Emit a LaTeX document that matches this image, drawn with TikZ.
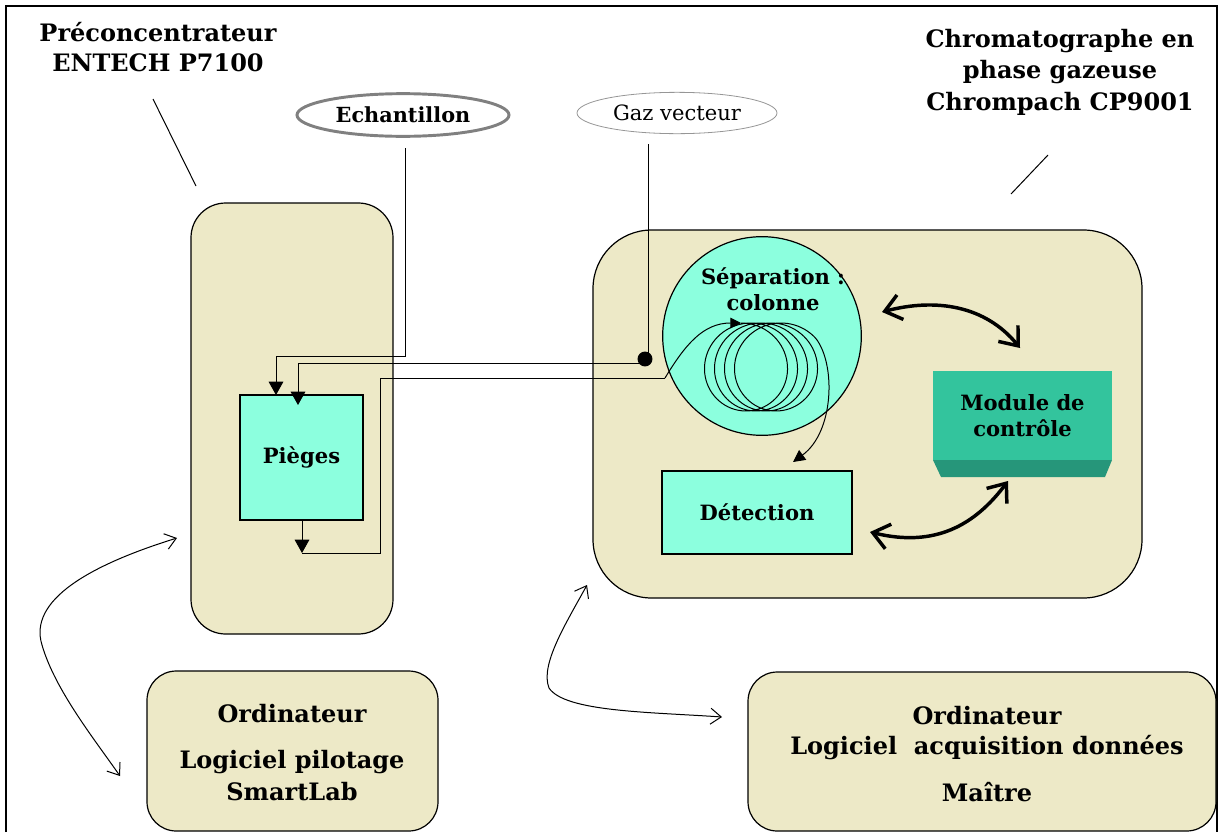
\documentclass[tikz,border=0pt]{standalone}
\usepackage{fontspec}
\setmainfont{DejaVu Serif}
\usetikzlibrary{arrows.meta,shapes.geometric,calc}
\definecolor{panelfill}{RGB}{237,233,199}
\definecolor{aqua}{RGB}{140,255,222}
\definecolor{modfront}{RGB}{51,196,157}
\definecolor{modbase}{RGB}{38,150,122}
\definecolor{ringgray}{RGB}{128,128,128}
\definecolor{thingray}{RGB}{150,150,150}

\begin{document}
\begin{tikzpicture}[x=0.75pt,y=-0.75pt,
  every node/.style={inner sep=0pt,outer sep=0pt},
  panel/.style={draw,fill=panelfill,line width=0.9pt,rounded corners=#1},
  panel/.default=24pt,
  unit/.style={draw,fill=aqua,line width=0.9pt},
  bigtext/.style={font=\bfseries\fontsize{18}{22.5}\selectfont,align=center},
  midtext/.style={font=\bfseries\fontsize{15.8}{19.5}\selectfont,align=center},
  pipe/.style={line width=0.75pt},
  pipearrow/.style={pipe,-{Triangle[length=10pt,width=11pt]}},
  link/.style={line width=0.75pt,{Straight Barb[length=8pt,width=12pt]}-{Straight Barb[length=8pt,width=12pt]}},
  buslink/.style={line width=2.6pt,line cap=round,{Straight Barb[length=12pt,width=19pt]}-{Straight Barb[length=12pt,width=19pt]}},
  leader/.style={line width=0.75pt}
]
\useasboundingbox (0,0) rectangle (1224,832);

% outer frame
\draw[line width=1.6pt] (6,832) -- (6,6) -- (1217,6) -- (1217,832);

% titles
\node[bigtext] (ttlprec) at (158,47) {Préconcentrateur\\ENTECH P7100};
\node[bigtext,font=\bfseries\fontsize{18}{23.6}\selectfont] (ttlgc) at (1060,72) {Chromatographe en\\phase gazeuse\\Chrompach CP9001};

% instrument panels
\node[panel=26pt,minimum width=151.5pt,minimum height=323.25pt] (prec) at (292,418.5) {};
\node[panel=44pt,minimum width=411.75pt,minimum height=276pt] (gc) at (867.5,414) {};

% leader lines from titles to panels
\coordinate (lp0) at (153,99);
\coordinate (lp1) at (196,186);
\coordinate (lg0) at (1048,155);
\coordinate (lg1) at (1011,194);
\draw[leader] (lp0) -- (lp1);
\draw[leader] (lg0) -- (lg1);

% sources
\node[ellipse,draw=ringgray,line width=2.2pt,fill=white,minimum width=159pt,minimum height=32pt,
      font=\bfseries\fontsize{15.6}{18}\selectfont] (ech) at (403,115) {Echantillon};
\node[ellipse,draw=thingray,line width=0.6pt,fill=white,minimum width=150pt,minimum height=31pt,
      font=\fontsize{15.8}{18}\selectfont] (gaz) at (677,113) {Gaz vecteur};

% traps, separation, detection, control
\node[unit,minimum width=92.25pt,minimum height=93.75pt,midtext] (pieges) at (301.5,457.5) {Pièges};
\node[circle,draw,fill=aqua,line width=0.9pt,minimum size=149pt] (sep) at (762,336) {};
\node[midtext] (septxt) at (773,289) {Séparation :\\colonne};
\node[unit,minimum width=142.5pt,minimum height=62.25pt,midtext] (det) at (757,512.5) {Détection};

\fill[modbase] (933,460) -- (1112,460) -- (1105,477) -- (941,477) -- cycle;
\node[fill=modfront,minimum width=134.25pt,minimum height=67pt,midtext] (mod) at (1022.5,415.5) {Module de\\contrôle};

% computers
\node[panel=22pt,minimum width=218.25pt,minimum height=120pt] (pc1) at (292.5,751) {};
\node[bigtext,font=\bfseries\fontsize{18}{24}\selectfont] (pc1txt) at (292,753)
  {Ordinateur\\[10.5pt]Logiciel pilotage\\SmartLab};
\node[panel=22pt,minimum width=351pt,minimum height=119.25pt] (pc2) at (982,751.5) {};
\node[bigtext,font=\bfseries\fontsize{18}{22.5}\selectfont] (pc2txt) at (987,754)
  {Ordinateur\\Logiciel\ \ acquisition données\\[12.5pt]Maître};

% sample line into the traps
\coordinate (e0) at (405,148);
\coordinate (e1) at (276,356);
\draw[pipearrow] (e0) |- (e1) -- (e1 |- pieges.north);

% carrier gas line with junction
\coordinate (g0) at (648,144);
\coordinate (gj) at (645,359);
\coordinate (g1) at (298,363);
\draw[pipe] (g0) -- (648,359);
\fill (gj) circle[radius=5.6pt];
\draw[pipearrow] (gj |- g1) -- (g1) -- ($(g1 |- pieges.north)+(0,10)$);

% trap outlet back to the column
\coordinate (o1) at (302,553);
\draw[pipearrow] (o1 |- pieges.south) -- (o1);
\coordinate (c0) at (665,378);
\coordinate (c1) at (741,323);
\draw[pipe] (o1) -| (380,378) -- (c0);
\draw[pipe,-{Triangle[length=8pt,width=8pt]}] (c0) .. controls (685,345) and (703,323) .. (c1);

% coiled column
\draw[pipe] plot[domain=0:1490,samples=320,smooth,variable=\t]
  ({741+10*\t/360+44*sin(\t)},{367-44*cos(\t)});
\coordinate (c2) at (816.09,338.72);
\coordinate (c3) at (793,462);
\draw[pipe,-{Triangle[length=9pt,width=9pt]}] (c2) .. controls (836,365) and (834,432) .. (c3);

% links with the control module
\coordinate (b0) at (882,312);
\coordinate (b1) at (1020,348);
\coordinate (b2) at (870,532);
\coordinate (b3) at (1008,481);
\draw[buslink] (b0) .. controls (935,298) and (985,305) .. (b1);
\draw[buslink] (b2) .. controls (935,548) and (975,525) .. (b3);

% computer links
\coordinate (k0) at (177,538);
\coordinate (k1) at (120,776);
\draw[link] (k0) .. controls (90,565) and (28,600) .. (42,645) .. controls (55,690) and (95,740) .. (k1);
\coordinate (m0) at (587,585);
\coordinate (m1) at (722,717);
\draw[link] (m0) .. controls (565,625) and (540,665) .. (549,688) .. controls (565,712) and (650,712) .. (m1);
\end{tikzpicture}
\end{document}
